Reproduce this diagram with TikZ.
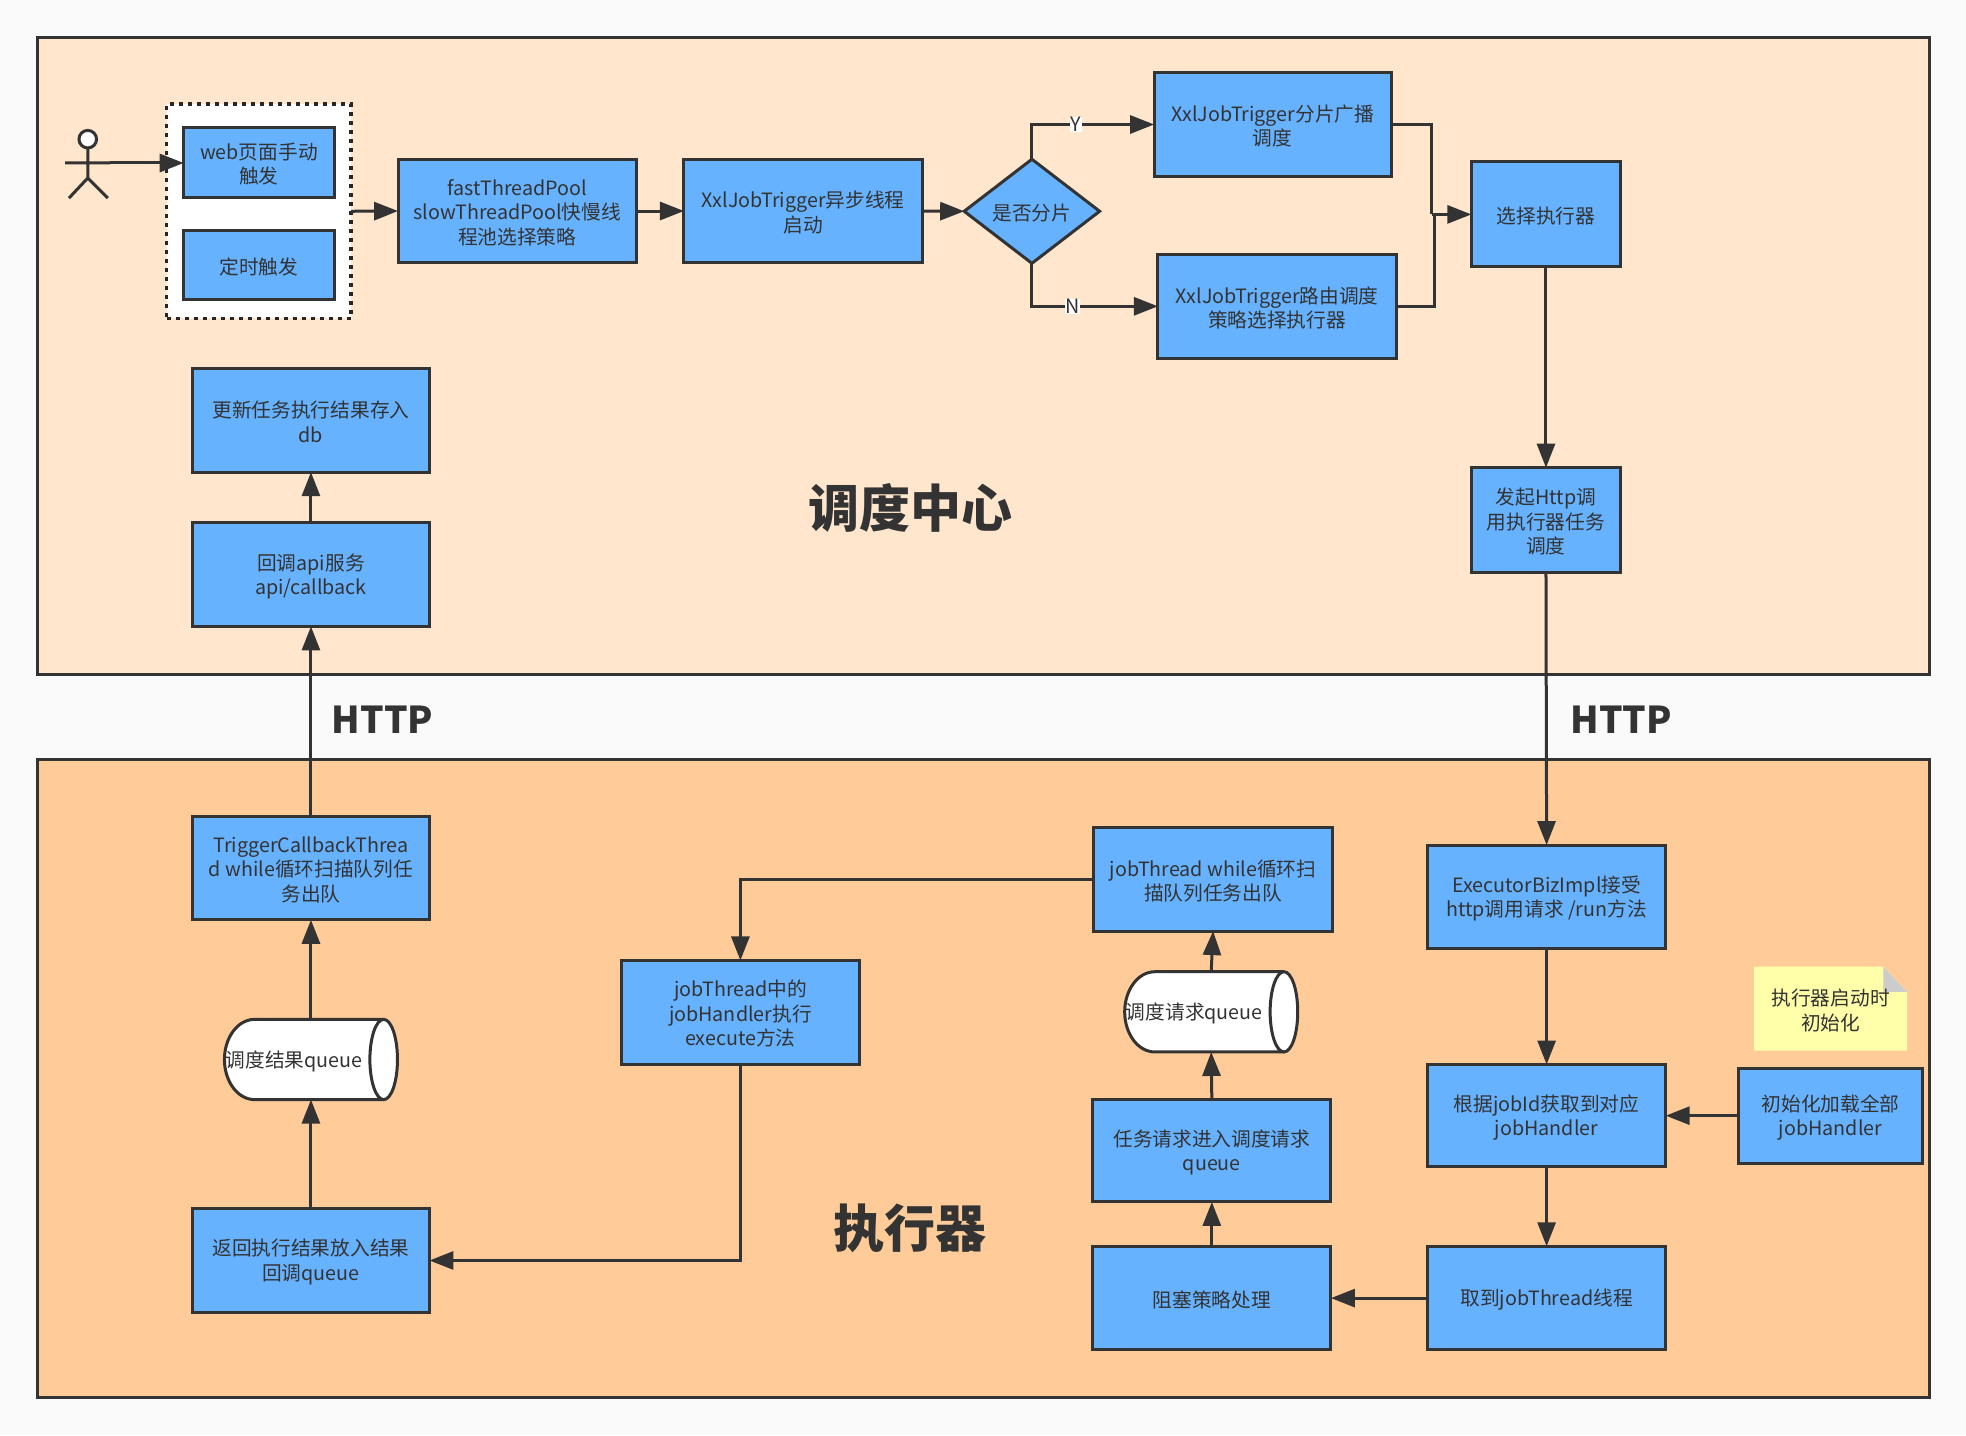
\documentclass[tikz,border=0pt]{standalone}
\usepackage{fontspec}
\setmainfont{Noto Sans CJK SC}
\usetikzlibrary{arrows.meta,shapes.geometric}
\definecolor{ink}{HTML}{333333}
\definecolor{boxblue}{HTML}{66B2FF}
\definecolor{paneltop}{HTML}{FFE6CC}
\definecolor{panelbot}{HTML}{FFCC99}
\definecolor{notey}{HTML}{FFFFAA}
\definecolor{pagebg}{HTML}{FAFAFA}
\newcommand{\bodyfont}{\fontsize{19.7}{24.4}\selectfont}
\tikzset{
  panel/.style={draw=ink,line width=3pt,inner sep=0pt,outer sep=0pt},
  bluebox/.style={draw=ink,line width=3pt,fill=boxblue,text=ink,align=center,inner sep=0pt,outer sep=0pt,font=\bodyfont},
  flow/.style={draw=ink,line width=3pt,-{Triangle[length=24pt,width=18pt]}},
  plainline/.style={draw=ink,line width=3pt},
  biglabel/.style={text=ink,font=\fontsize{37}{44}\selectfont\bfseries,inner sep=0pt},
  titlelabel/.style={text=ink,font=\fontsize{51}{56}\selectfont\bfseries,inner sep=0pt},
  branch/.style={fill=white,text=ink,font=\bodyfont,inner sep=0.5pt},
  plaintext/.style={text=ink,align=center,inner sep=0pt,font=\bodyfont},
  boxtext/.style={plaintext,yshift=-1.6pt},
}
\newcommand{\bx}[6]{\node[bluebox,minimum width={(#4-#2-1)*1.2538pt},minimum height={(#5-#3-0.4)*1.2538pt},label={[boxtext]center:{#6}}] (#1) at ({(#2+#4)/2},{(#3+#5)/2-0.2}) {};}
% name x1 y1 x2 y2 text: horizontal drum (y axis points down)
\newcommand{\drum}[6]{%
  \fill[white] (#2+24,#3) -- (#4-11,#3) arc[start angle=-90,end angle=90,x radius=11,y radius={(#5-#3)/2}] -- (#2+24,#5) arc[start angle=90,end angle=270,x radius=24,y radius={(#5-#3)/2}] -- cycle;
  \draw[ink,line width=3pt] (#4-11,#3) -- (#2+24,#3) arc[start angle=270,end angle=90,x radius=24,y radius={(#5-#3)/2}] -- (#4-11,#5);
  \draw[ink,line width=3pt] ({#4-11},{(#3+#5)/2}) ellipse[x radius=11,y radius={(#5-#3)/2}];
  \node[minimum width={(#4-#2)*1.2538pt},minimum height={(#5-#3)*1.2538pt},inner sep=0pt,outer sep=0pt] (#1) at ({(#2+#4)/2},{(#3+#5)/2}) {};
  \node[boxtext] (#1t) at ({#2+55.5},{(#3+#5)/2}) {#6};}
\begin{document}
\begin{tikzpicture}[x=1.2538pt,y=-1.2538pt]
\useasboundingbox (0,0) rectangle (1568,1144.5);
\fill[pagebg] (0,0) rectangle (1568,1144.5);
\filldraw[panel,fill=paneltop] (30,30) rectangle (1539,538);
\filldraw[panel,fill=panelbot] (30,606) rectangle (1539,1114.5);

% actor
\draw[ink,line width=3pt,fill=white] (70,111) circle[radius=7];
\draw[ink,line width=3pt] (70,118) -- (70,142) (55,158) -- (70,142) -- (86,158) (52,130) -- (88,130);
\coordinate (actor) at (88,130);

% dotted group
\node[draw=black!85,line width=3.2pt,dash pattern=on 4pt off 5pt,fill=white,minimum width={147*1.2538pt},minimum height={171*1.2538pt},inner sep=0pt,outer sep=0pt] (group) at (206.5,168.5) {};
\bx{web}{146}{102}{267}{158}{web页面手动\\触发}
\bx{timer}{146}{184}{267}{239}{定时触发}

\bx{pool}{317}{127}{508}{210}{fastThreadPool\\slowThreadPool快慢线\\程池选择策略}
\bx{async}{545}{127}{736}{210}{XxlJobTrigger异步线程\\启动}
\node[diamond,bluebox,aspect=1.3,minimum width={108*1.2538pt},minimum height={83*1.2538pt},label={[boxtext]center:{是否分片}}] (shard) at (823,168.5) {};
\bx{broad}{920}{58}{1110}{141}{XxlJobTrigger分片广播\\调度}
\bx{route}{923}{203}{1114}{286}{XxlJobTrigger路由调度\\策略选择执行器}
\bx{pick}{1173}{129}{1293}{213}{选择执行器}
\bx{http}{1173}{373}{1293}{457}{发起Http调\\用执行器任务\\调度}
\bx{update}{153}{294}{343}{377}{更新任务执行结果存入\\db}
\bx{callback}{153}{417}{343}{500}{回调api服务\\api/callback}

\node[titlelabel] (tcenter) at (726,405) {调度中心};
\node[titlelabel] (texec) at (726,980) {执行器};
\node[biglabel] (hleft) at (305,574) {HTTP};
\node[biglabel] (hright) at (1293,574) {HTTP};

\bx{tcb}{153}{651}{343}{734}{TriggerCallbackThrea\\d while循环扫描队列任\\务出队}
\drum{rq}{179}{813}{317}{877}{调度结果queue}
\bx{ret}{153}{964}{343}{1047}{返回执行结果放入结果\\回调queue}
\bx{handler}{495}{766}{686}{849}{jobThread中的\\jobHandler执行\\execute方法}
\bx{jt}{872}{660}{1063}{743}{jobThread while循环扫\\描队列任务出队}
\drum{tq}{897}{775}{1035}{839}{调度请求queue}
\bx{enq}{871}{877}{1062}{959}{任务请求进入调度请求\\queue}
\bx{block}{871}{994}{1062}{1077}{阻塞策略处理}
\bx{biz}{1138}{674}{1329}{757}{ExecutorBizImpl接受\\http调用请求 /run方法}
\bx{find}{1138}{849}{1329}{931}{根据jobId获取到对应\\jobHandler}
\bx{take}{1138}{994}{1329}{1077}{取到jobThread线程}
\bx{init}{1386}{852}{1534}{928}{初始化加载全部\\jobHandler}

% note
\fill[notey] (1399,771) -- (1502,771) -- (1521,791) -- (1521,838) -- (1399,838) -- cycle;
\fill[black!20] (1502,771) -- (1502,791) -- (1521,791) -- cycle;
\node[plaintext] (note) at (1460,806) {执行器启动时\\初始化};

% connectors
\draw[flow] (actor) -- (web.west |- actor);
\draw[flow] (group.east) -- (pool.west);
\draw[flow] (pool.east) -- (async.west);
\draw[flow] (async.east) -- (shard.west);
\draw[flow] (shard.north) |- node[branch,pos=0.68] {Y} (broad.west);
\draw[flow] (shard.south) |- node[branch,pos=0.66] {N} (route.west);
\coordinate (merge) at (1144,171);
\draw[plainline] (broad.east) -| (1142,171);
\draw[plainline] (route.east) -| (merge);
\draw[flow] (1142,171) -- (pick.west |- merge);
\draw[flow] (pick.south) -- (http.north);
\draw[flow] (http.south) -- (biz.north);
\draw[flow] (callback.north) -- (update.south);
\draw[flow] (tcb.north) -- (callback.south);
\draw[flow] (rq.north) -- (tcb.south);
\draw[flow] (ret.north) -- (rq.south);
\draw[flow] (jt.west) -| (handler.north);
\draw[flow] (handler.south) |- (ret.east);
\draw[flow] (block.north) -- (enq.south);
\draw[flow] (enq.north) -- (tq.south);
\draw[flow] (tq.north) -- (jt.south);
\draw[flow] (biz.south) -- (find.north);
\draw[flow] (init.west) -- (find.east);
\draw[flow] (find.south) -- (take.north);
\draw[flow] (take.west) -- (block.east);
\end{tikzpicture}
\end{document}
